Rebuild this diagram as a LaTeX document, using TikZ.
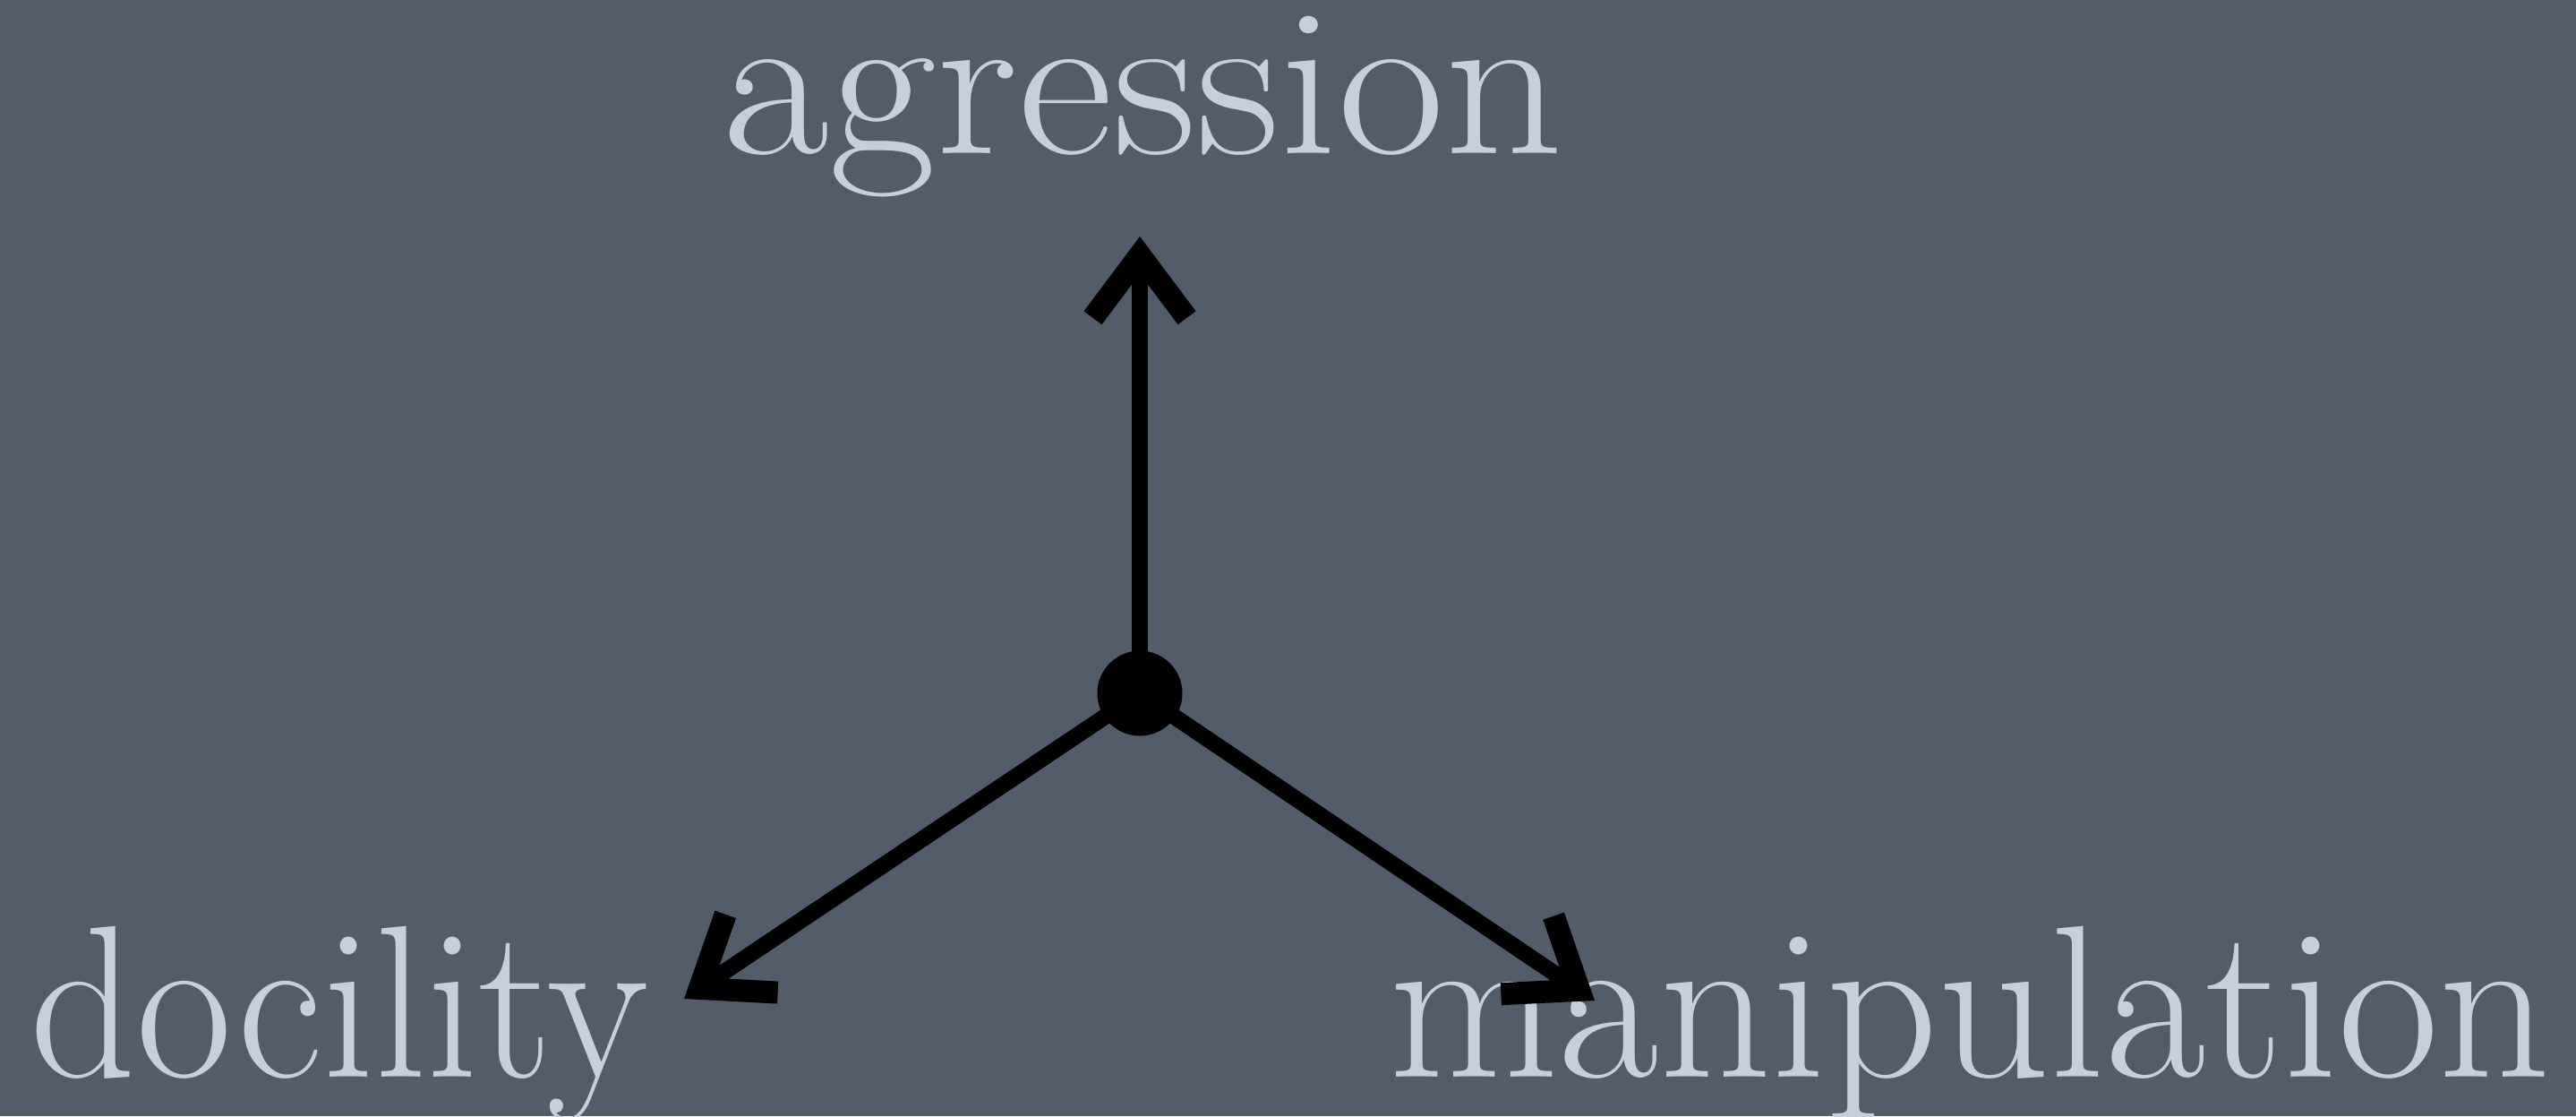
\documentclass[tikz,border=0pt]{standalone}
\usetikzlibrary{arrows.meta}
\definecolor{bg}{HTML}{535C6B}
\definecolor{fg}{HTML}{C6CFDB}
\begin{document}
\begin{tikzpicture}[
  word/.style={anchor=base west, inner sep=0pt, text=fg, font=\fontsize{69}{80}\selectfont},
  arr/.style={line width=0.18cm, draw=black, -{Straight Barb[length=0.7cm, width=1.05cm, line width=0.25cm]}}
]
\fill[bg] (0,0) rectangle (28.77,12.46);
\useasboundingbox (0,0) rectangle (28.77,12.46);
\node[word] (agr) at (8.07,10.74) {\scalebox{1.07}[0.98]{agression}};
\node[word] (doc) at (0.33,0.44) {\scalebox{0.96}[1]{docility}};
\node[word] (man) at (15.51,0.44) {\scalebox{1.01}[1]{manipulation}};
\node[circle, fill=black, minimum size=0.95cm, inner sep=0pt] (c) at (12.73,4.72) {};
\coordinate (tu) at (12.73,9.82);
\coordinate (tl) at (7.64,1.31);
\coordinate (tr) at (17.81,1.29);
\draw[arr] (c.center) -- (tu);
\draw[arr] (c.center) -- (tl);
\draw[arr] (c.center) -- (tr);
\end{tikzpicture}
\end{document}
